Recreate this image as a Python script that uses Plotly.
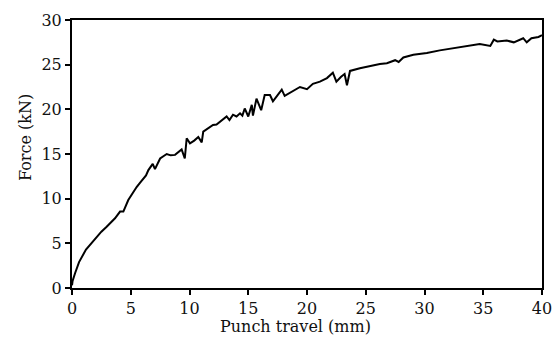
import plotly.graph_objects as go

travel_mm = [0, 0.05, 0.26, 0.6, 1.19, 1.6, 2.1, 2.5, 2.95, 3.3, 3.66, 4.09, 4.37, 4.79, 5.1, 5.5,
             5.8, 6.07, 6.3, 6.5, 6.87, 7.06, 7.5, 8.06, 8.4, 8.77, 9.33, 9.6, 9.76, 10.04, 10.4,
             10.75, 11.04, 11.17, 11.6, 12.0, 12.3, 12.6, 12.9, 13.16, 13.4, 13.7, 14.0, 14.3, 14.5,
             14.7, 15.0, 15.3, 15.4, 15.7, 16.1, 16.4, 16.85, 17.1, 17.5, 17.85, 18.1, 18.8, 19.4,
             20.0, 20.5, 21.1, 21.7, 22.2, 22.5, 22.9, 23.2, 23.4, 23.66, 24.5, 25.4, 26.2, 26.8,
             27.5, 27.8, 28.2, 29.05, 30.2, 31.3, 32.5, 33.6, 34.7, 35.6, 35.9, 36.2, 37.0, 37.6,
             38.4, 38.7, 39.1, 39.7, 40.0]
force_kN = [0.3, 0.8, 1.65, 2.9, 4.3, 4.9, 5.75, 6.3, 6.86, 7.3, 7.8, 8.55, 8.55, 9.85, 10.5, 11.3,
            11.8, 12.3, 12.6, 13.2, 13.9, 13.3, 14.5, 15.0, 14.85, 14.9, 15.5, 14.5, 16.76, 16.2, 16.5,
            16.9, 16.3, 17.5, 17.9, 18.25, 18.3, 18.6, 18.9, 19.2, 18.8, 19.4, 19.2, 19.56, 19.3,
            20.1, 19.2, 20.5, 19.3, 21.2, 19.9, 21.6, 21.6, 20.9, 21.6, 22.2, 21.5, 22.0, 22.5,
            22.25, 22.85, 23.1, 23.5, 24.1, 23.1, 23.65, 23.96, 22.7, 24.3, 24.6, 24.86, 25.08, 25.16,
            25.5, 25.3, 25.8, 26.1, 26.3, 26.6, 26.85, 27.0, 27.3, 27.1, 27.8, 27.6, 27.7, 27.5,
            27.96, 27.5, 27.96, 28.1, 28.3]

x_ticks = [0, 5, 10, 15, 20, 25, 30, 35, 40]
y_ticks = [0, 5, 10, 15, 20, 25, 30]
x_title = "Punch travel (mm)"
y_title = "Force (kN)"

fig = go.Figure(go.Scatter(x=travel_mm, y=force_kN, mode="lines",
                           line=dict(color="black", width=2), showlegend=False))

font = dict(family="DejaVu Serif", size=16, color="#111111")
axis_common = dict(showline=True, linecolor="black", linewidth=2, mirror=True,
                   ticks="outside", ticklen=5, tickwidth=1.5, tickcolor="black",
                   showgrid=False, zeroline=False, tickfont=font, automargin=False)

fig.update_xaxes(range=[0, 40], tickvals=x_ticks, **axis_common)
fig.update_yaxes(range=[0, 30], tickvals=y_ticks, **axis_common)

fig.add_annotation(text=x_title, xref="paper", yref="paper", x=(295.5 - 72) / 470,
                   y=-(326 - 288) / 268, showarrow=False, font=font,
                   xanchor="center", yanchor="middle")
fig.add_annotation(text=y_title, xref="paper", yref="paper", x=(25 - 72) / 470,
                   y=(288 - 138) / 268, showarrow=False, font=font, textangle=-90,
                   xanchor="center", yanchor="middle")

fig.update_layout(width=560, height=338, margin=dict(l=72, r=18, t=20, b=50),
                  plot_bgcolor="white", paper_bgcolor="white", font=font)

fig.write_html("out.html")
